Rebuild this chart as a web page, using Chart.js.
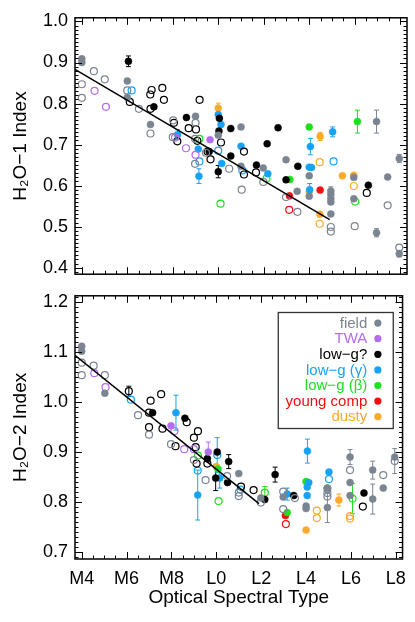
<!DOCTYPE html>
<html><head><meta charset="utf-8">
<script src="https://cdn.jsdelivr.net/npm/chart.js@4.4.1/dist/chart.umd.min.js"></script>
<style>
html,body{margin:0;padding:0;background:#fff;}
#wrap{position:relative;width:415px;height:622px;overflow:hidden;}
#c1{position:absolute;left:0;top:0;}
#c2{position:absolute;left:0;top:278px;}
</style></head><body>
<div id="wrap">
<canvas id="c1" width="415" height="292"></canvas>
<canvas id="c2" width="415" height="344"></canvas>
</div>
<script>
// ---------- axes ----------
const xTickVals = [4, 6, 8, 10, 12, 14, 16, 18];
const xTickLabels = ['M4', 'M6', 'M8', 'L0', 'L2', 'L4', 'L6', 'L8'];
const y1TickVals = [0.4, 0.5, 0.6, 0.7, 0.8, 0.9, 1.0];
const y2TickVals = [0.7, 0.8, 0.9, 1.0, 1.1, 1.2];
const groupNames = ['field', 'TWA', 'low\u2212g?', 'low\u2212g (\u03b3)', 'low\u2212g (\u03b2)', 'young comp', 'dusty'];

// ---------- H2O-1 index: [spectral type, index, error] ----------
const h1FieldFilled = [[4.0,0.909],[4.0,0.900],[6.0,0.855],[6.0,0.815],[7.02,0.749],[9.0,0.769],[10.0,0.723],[11.0,0.743],[11.0,0.647],[11.98,0.643],[12.98,0.663],[13.47,0.586],[14.0,0.624],[14.0,0.574],[14.95,0.587,0.01],[14.95,0.578],[14.95,0.568],[14.95,0.560],[14.95,0.531],[15.96,0.620],[15.96,0.568],[16.96,0.756,0.028],[16.96,0.485,0.01],[17.45,0.621],[17.96,0.666,0.01],[17.96,0.434,0.008]];
const h1FieldOpen = [[4.0,0.847],[4.0,0.814],[4.53,0.879],[5.01,0.859],[6.0,0.832],[6.51,0.787],[7.02,0.727],[8.02,0.759],[8.0,0.718],[9.0,0.753],[8.98,0.714],[8.98,0.653],[9.46,0.680],[10.48,0.641],[11.03,0.590],[11.98,0.609],[12.98,0.572],[13.48,0.536],[14.95,0.499],[14.95,0.488],[16.0,0.501],[17.45,0.552],[17.96,0.449]];
const h1TwaFilled = [[9.64,0.712]];
const h1TwaOpen = [[4.56,0.831],[5.06,0.792],[8.1,0.717],[8.58,0.691],[9.0,0.675]];
const h1LowgFilled = [[6.05,0.903,0.013],[7.17,0.792],[8.6,0.766],[10.05,0.764],[10.03,0.733],[9.6,0.683],[10.0,0.634,0.015],[10.55,0.739],[10.55,0.672],[11.68,0.650],[12.15,0.702],[12.63,0.741],[12.98,0.614],[13.5,0.647],[16.6,0.601]];
const h1LowgOpen = [[6.11,0.804],[7.07,0.833],[7.01,0.822],[7.02,0.787],[7.54,0.838],[7.61,0.809],[8.05,0.753],[8.2,0.708],[8.7,0.740],[9.02,0.737],[9.18,0.809],[9.08,0.709],[9.53,0.683],[9.66,0.664],[10.12,0.705],[11.13,0.683],[11.13,0.627],[11.66,0.632],[16.53,0.582]];
const h1GammaFilled = [[8.21,0.724,0.012],[9.12,0.689],[9.15,0.623,0.018],[10.0,0.773],[10.12,0.749],[10.15,0.654],[11.0,0.696],[12.18,0.629],[14.05,0.695,0.02],[14.0,0.645],[14.1,0.644],[14.02,0.590,0.015],[15.03,0.731,0.012]];
const h1GammaOpen = [[6.19,0.832],[9.17,0.659],[10.0,0.685],[11.06,0.637],[15.07,0.659]];
const h1BetaFilled = [[13.15,0.615],[14.0,0.743],[16.12,0.756,0.028]];
const h1BetaOpen = [[9.17,0.714],[10.1,0.556],[12.12,0.617],[16.02,0.561]];
const h1YoungFilled = [[13.13,0.575],[14.48,0.589]];
const h1YoungOpen = [[13.12,0.541]];
const h1DustyFilled = [[10.0,0.789,0.012],[14.48,0.720,0.01],[14.0,0.585],[14.47,0.530],[15.46,0.624],[15.96,0.625]];
const h1DustyOpen = [[14.46,0.657],[14.46,0.507],[15.96,0.599]];
const h1FitX = [3.7, 14.9];
const h1FitY = [0.883, 0.517];

// ---------- H2O-2 index: [spectral type, index, error] ----------
const h2FieldFilled = [[4.0,1.112],[4.0,1.102],[5.03,1.018],[11.0,0.857],[11.98,0.808],[12.98,0.810],[14.0,0.792],[14.0,0.787],[14.95,0.828],[14.95,0.789,0.03],[15.96,0.890,0.015],[15.96,0.839],[15.96,0.813],[16.97,0.864,0.018],[16.97,0.806,0.03],[17.44,0.828],[17.95,0.890]];
const h2FieldOpen = [[4.0,1.079],[4.0,1.054],[4.53,1.073],[5.03,1.054],[6.51,0.974],[7.0,0.935],[7.98,0.916],[9.0,0.884],[9.52,0.844],[10.48,0.852],[11.0,0.819],[11.0,0.812],[11.98,0.799],[12.98,0.821],[12.98,0.786],[13.5,0.808],[14.95,0.827],[14.95,0.818],[14.95,0.811],[15.96,0.864],[17.44,0.854],[17.95,0.882,0.025]];
const h2TwaFilled = [[7.98,0.953],[9.64,0.900,0.02]];
const h2TwaOpen = [[4.56,1.058],[5.06,1.030],[8.13,0.942],[8.57,0.906],[9.0,0.906]];
const h2LowgFilled = [[7.16,0.979],[8.6,0.968],[9.6,0.887],[10.04,0.900],[9.97,0.848,0.025],[10.55,0.881,0.014],[10.5,0.839],[12.16,0.805],[12.62,0.855,0.015],[13.45,0.813],[16.58,0.818]];
const h2LowgOpen = [[6.1,1.022,0.01],[7.07,1.003],[7.0,0.979],[7.0,0.950],[7.54,1.016],[7.6,0.947],[8.18,0.912],[8.68,0.960],[9.18,0.942],[9.0,0.929],[9.08,0.910],[9.12,0.877],[9.6,0.877],[11.1,0.831],[11.66,0.824],[16.53,0.791]];
const h2GammaFilled = [[8.2,0.979,0.035],[9.17,0.814,0.05],[10.15,0.848,0.02],[13.16,0.816,0.012],[14.06,0.902,0.024],[14.05,0.830],[14.05,0.813],[14.12,0.839],[15.02,0.860]];
const h2GammaOpen = [[6.19,1.005],[9.17,0.863],[10.04,0.894,0.035],[11.08,0.825],[15.02,0.846]];
const h2BetaFilled = [[10.07,0.866],[13.16,0.779],[14.0,0.841]];
const h2BetaOpen = [[9.18,0.893],[10.1,0.802],[12.16,0.819,0.012],[16.07,0.807,0.03]];
const h2YoungFilled = [[13.08,0.773]];
const h2YoungOpen = [[13.1,0.756]];
const h2DustyFilled = [[10.0,0.871],[14.0,0.744],[15.46,0.804,0.012]];
const h2DustyOpen = [[14.48,0.783],[14.48,0.768],[15.96,0.772],[15.96,0.767]];
const h2FitX = [3.7, 11.9];
const h2FitY = [1.094, 0.797];

// ---------- styles ----------
const groupColors = ['#7b8591', '#b46cf0', '#000000', '#17a3f5', '#1ee01e', '#f20f0f', '#fcaa2c'];
const FONT = 'Liberation Sans, Arial, Helvetica, sans-serif';
Chart.defaults.font.family = FONT;

function mk(points, gi, filled) {
  const c = groupColors[gi];
  return {
    data: points.map(p => ({x: p[0], y: p[1], e: p[2] || 0})),
    pointRadius: 3.5, pointHoverRadius: 3.5,
    backgroundColor: filled ? c : 'rgba(0,0,0,0)',
    borderColor: c, borderWidth: filled ? 0.5 : 1.2,
    errColor: c, showLine: false, order: 2
  };
}
function fit(xs, ys) {
  return { data: xs.map((x, i) => ({x: x, y: ys[i]})), showLine: true, pointRadius: 0,
    borderColor: '#000', borderWidth: 1.5, backgroundColor: '#000', order: 0 };
}

const decoPlugin = {
  id: 'deco',
  beforeDatasetsDraw(chart) {
    const ctx = chart.ctx, xs = chart.scales.x, ys = chart.scales.y, a = chart.chartArea;
    ctx.save();
    ctx.beginPath(); ctx.rect(a.left, a.top, a.right - a.left, a.bottom - a.top); ctx.clip();
    ctx.lineWidth = 1;
    chart.data.datasets.forEach(ds => {
      if (!ds.errColor) return;
      ds.data.forEach(p => {
        if (!p.e) return;
        const px = xs.getPixelForValue(p.x);
        const y1 = ys.getPixelForValue(p.y - p.e), y2 = ys.getPixelForValue(p.y + p.e);
        ctx.strokeStyle = ds.errColor;
        ctx.beginPath();
        ctx.moveTo(px, y1); ctx.lineTo(px, y2);
        ctx.moveTo(px - 2.5, y1); ctx.lineTo(px + 2.5, y1);
        ctx.moveTo(px - 2.5, y2); ctx.lineTo(px + 2.5, y2);
        ctx.stroke();
      });
    });
    ctx.restore();
  },
  afterDraw(chart) {
    const ctx = chart.ctx, xs = chart.scales.x, ys = chart.scales.y, a = chart.chartArea;
    ctx.save();
    ctx.strokeStyle = '#000'; ctx.lineWidth = 1;
    ctx.beginPath();
    for (let k = Math.ceil(xs.min * 2 - 1e-6); k <= Math.floor(xs.max * 2 + 1e-6); k++) {
      const len = (k % 4 === 0) ? 7 : 3.5;
      const px = Math.round(xs.getPixelForValue(k / 2)) + 0.5;
      ctx.moveTo(px, a.bottom); ctx.lineTo(px, a.bottom - len);
      ctx.moveTo(px, a.top); ctx.lineTo(px, a.top + len);
    }
    for (let k = Math.ceil(ys.min * 100 - 1e-6); k <= Math.floor(ys.max * 100 + 1e-6); k++) {
      const len = (k % 10 === 0) ? 7 : 3.5;
      const py = Math.round(ys.getPixelForValue(k / 100)) + 0.5;
      ctx.moveTo(a.left, py); ctx.lineTo(a.left + len, py);
      ctx.moveTo(a.right, py); ctx.lineTo(a.right - len, py);
    }
    ctx.stroke();
    ctx.lineWidth = 1.5;
    ctx.strokeRect(a.left, a.top, a.right - a.left, a.bottom - a.top);
    ctx.restore();
  }
};

const legendPlugin = {
  id: 'boxLegend',
  afterDraw(chart) {
    const ctx = chart.ctx, a = chart.chartArea;
    const bw = 115, bh = 116;
    const bx = a.right - 9.3 - bw, by = a.top + 16.7;
    ctx.save();
    ctx.lineWidth = 1.3; ctx.strokeStyle = '#333';
    ctx.strokeRect(bx, by, bw, bh);
    ctx.font = '15px ' + FONT;
    ctx.textAlign = 'right'; ctx.textBaseline = 'middle';
    groupNames.forEach((n, i) => {
      const y = by + 10.6 + 15.6 * i;
      ctx.fillStyle = groupColors[i];
      ctx.fillText(n, bx + bw - 26, y + 0.5);
      ctx.beginPath(); ctx.arc(bx + bw - 15.4, y, 3.6, 0, 2 * Math.PI); ctx.fill();
    });
    ctx.restore();
  }
};

function yAxis(min, max, ticks, title) {
  return {
    type: 'linear', min: min, max: max,
    afterBuildTicks: s => { s.ticks = ticks.map(v => ({value: v})); },
    ticks: { callback: v => Number(v).toFixed(1), font: {family: FONT, size: 18}, color: '#000', padding: 7 },
    grid: { display: false, drawTicks: false }, border: { display: false },
    title: { display: true, text: title, font: {family: FONT, size: 19}, color: '#000', padding: {top: 9, bottom: 0} },
    afterFit: s => { s.width = 75; }
  };
}

function datasets(F) {
  return [
    fit(F.fx, F.fy),
    mk(F.g[0][0], 0, false), mk(F.g[0][1], 0, true),
    mk(F.g[1][0], 1, false), mk(F.g[1][1], 1, true),
    mk(F.g[2][0], 2, false), mk(F.g[2][1], 2, true),
    mk(F.g[3][0], 3, false), mk(F.g[3][1], 3, true),
    mk(F.g[4][0], 4, false), mk(F.g[4][1], 4, true),
    mk(F.g[5][0], 5, false), mk(F.g[5][1], 5, true),
    mk(F.g[6][0], 6, false), mk(F.g[6][1], 6, true)
  ];
}

const commonPlugins = { legend: {display: false}, tooltip: {enabled: false} };

new Chart(document.getElementById('c1'), {
  type: 'scatter',
  data: { datasets: datasets({ fx: h1FitX, fy: h1FitY, g: [
    [h1FieldOpen, h1FieldFilled], [h1TwaOpen, h1TwaFilled], [h1LowgOpen, h1LowgFilled],
    [h1GammaOpen, h1GammaFilled], [h1BetaOpen, h1BetaFilled], [h1YoungOpen, h1YoungFilled],
    [h1DustyOpen, h1DustyFilled]] }) },
  options: {
    responsive: false, animation: false, events: [],
    layout: { padding: {left: 0, right: 8, top: 13, bottom: 7} },
    scales: {
      x: { type: 'linear', min: 3.7, max: 18.3, display: false },
      y: yAxis(0.384, 1.009, y1TickVals, 'H\u2082O\u22121 Index')
    },
    plugins: commonPlugins
  },
  plugins: [decoPlugin]
});

new Chart(document.getElementById('c2'), {
  type: 'scatter',
  data: { datasets: datasets({ fx: h2FitX, fy: h2FitY, g: [
    [h2FieldOpen, h2FieldFilled], [h2TwaOpen, h2TwaFilled], [h2LowgOpen, h2LowgFilled],
    [h2GammaOpen, h2GammaFilled], [h2BetaOpen, h2BetaFilled], [h2YoungOpen, h2YoungFilled],
    [h2DustyOpen, h2DustyFilled]] }) },
  options: {
    responsive: false, animation: false, events: [],
    layout: { padding: {left: 0, right: 8, top: 7, bottom: 0} },
    scales: {
      x: {
        type: 'linear', min: 3.7, max: 18.3,
        afterBuildTicks: s => { s.ticks = xTickVals.map(v => ({value: v})); },
        ticks: { callback: v => xTickLabels[xTickVals.indexOf(v)], font: {family: FONT, size: 18}, color: '#000', padding: 9, maxRotation: 0, autoSkip: false },
        grid: { display: false, drawTicks: false }, border: { display: false },
        title: { display: true, text: 'Optical Spectral Type', font: {family: FONT, size: 19}, color: '#000', padding: {top: 0, bottom: 13} },
        afterFit: s => { s.height = 63; }
      },
      y: yAxis(0.686, 1.213, y2TickVals, 'H\u2082O\u22122 Index')
    },
    plugins: commonPlugins
  },
  plugins: [decoPlugin, legendPlugin]
});
</script>
</body></html>
